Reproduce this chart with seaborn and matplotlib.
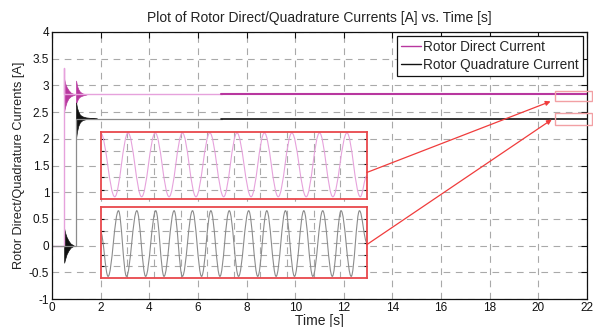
import numpy as np
import pandas as pd
import matplotlib
matplotlib.use("Agg")
import matplotlib.pyplot as plt
from matplotlib.patches import Rectangle, PathPatch
from matplotlib.path import Path
import seaborn as sns

# ---- data ----
# thin start-up traces (time [s], current [A])
direct_t = [0.0, 0.5, 0.5, 0.5, 7.0]
direct_i = [0.0, 0.0, 3.33, 2.83, 2.83]
quad_t = [0.0, 1.0, 1.0, 7.0]
quad_i = [0.0, 0.0, 2.38, 2.38]

# steady state (noisy) part
steady_t = [6.95, 22.0]
steady_direct = [2.83, 2.83]
steady_quad = [2.38, 2.38]

# transient bursts: envelope (time, upper, lower)
burst_d1_t = [0.50, 0.54, 0.60, 0.68, 0.78, 0.95]
burst_d1_hi = [3.12, 3.04, 2.97, 2.91, 2.86, 2.83]
burst_d1_lo = [2.52, 2.60, 2.69, 2.76, 2.80, 2.83]
burst_d2_t = [0.99, 1.03, 1.08, 1.15, 1.25, 1.42]
burst_d2_hi = [3.09, 2.99, 2.93, 2.88, 2.85, 2.83]
burst_d2_lo = [2.66, 2.71, 2.76, 2.79, 2.81, 2.83]
burst_q1_t = [0.50, 0.54, 0.60, 0.68, 0.76, 0.90]
burst_q1_hi = [0.32, 0.24, 0.16, 0.09, 0.04, 0.0]
burst_q1_lo = [-0.32, -0.25, -0.16, -0.09, -0.04, 0.0]
burst_q2_t = [0.99, 1.03, 1.08, 1.15, 1.25, 1.40, 1.60, 1.85]
burst_q2_hi = [2.68, 2.58, 2.51, 2.45, 2.42, 2.40, 2.39, 2.38]
burst_q2_lo = [2.02, 2.14, 2.24, 2.31, 2.35, 2.37, 2.38, 2.38]

# zoomed ripple, extrema positions (fraction of window) and levels
zoom_d_x = [0.0, 0.053, 0.103, 0.154, 0.205, 0.257, 0.307, 0.358, 0.41, 0.462,
            0.512, 0.565, 0.615, 0.667, 0.718, 0.772, 0.822, 0.872, 0.925, 0.975, 1.0]
zoom_d_y = [0.97, -0.93, 0.97, -0.93, 0.97, -0.93, 0.97, -0.93, 0.97, -0.93,
            0.97, -0.93, 0.97, -0.93, 0.97, -0.93, 0.97, -0.93, 0.97, -0.93, -0.3]
zoom_q_x = [0.0, 0.028, 0.067, 0.097, 0.136, 0.169, 0.207, 0.238, 0.276, 0.307,
            0.345, 0.379, 0.414, 0.448, 0.483, 0.518, 0.556, 0.590, 0.624, 0.659,
            0.694, 0.728, 0.763, 0.797, 0.834, 0.870, 0.903, 0.941, 0.972, 1.0]
zoom_q_y = [0.3, -0.95, 0.9, -0.95, 0.9, -0.95, 0.9, -0.95, 0.9, -0.95,
            0.9, -0.95, 0.9, -0.95, 0.9, -0.95, 0.9, -0.95, 0.9, -0.95,
            0.9, -0.95, 0.9, -0.95, 0.9, -0.95, 0.9, -0.95, 0.9, 0.0]

xticks = [0, 2, 4, 6, 8, 10, 12, 14, 16, 18, 20, 22]
yticks = [-1, -0.5, 0, 0.5, 1, 1.5, 2, 2.5, 3, 3.5, 4]
ytick_labels = ["-1", "-0.5", "0", "0.5", "1", "1.5", "2", "2.5", "3", "3.5", "4"]

# ---- style ----
sns.set_style("white")
plt.rcParams["font.family"] = ["Liberation Sans", "DejaVu Sans"]

MAG = "#b8379f"
MAG_LIGHT = "#e6a2dc"
GRAY = "#8c8c8c"
RED = "#e8484c"
GRID = dict(color="#a9a9a9", linestyle=(0, (6, 5)), linewidth=0.8)

fig = plt.figure(figsize=(5.93, 3.27), dpi=100)
ax = fig.add_axes([52 / 593, 1 - 299 / 327, 535 / 593, 267 / 327])

# thin traces
sns.lineplot(x=direct_t, y=direct_i, sort=False, estimator=None,
             color=MAG_LIGHT, lw=1.0, ax=ax)
sns.lineplot(x=quad_t, y=quad_i, sort=False, estimator=None,
             color=GRAY, lw=0.9, ax=ax)

# bursts
ax.fill_between(burst_d1_t, burst_d1_lo, burst_d1_hi, color=MAG, lw=0.5)
ax.fill_between(burst_d2_t, burst_d2_lo, burst_d2_hi, color=MAG, lw=0.5)
ax.fill_between(burst_q1_t, burst_q1_lo, burst_q1_hi, color="#111111", lw=0.5)
ax.fill_between(burst_q2_t, burst_q2_lo, burst_q2_hi, color="#111111", lw=0.5)

# steady state
sns.lineplot(x=steady_t, y=steady_direct, color=MAG, lw=1.5, ax=ax,
             label="Rotor Direct Current")
sns.lineplot(x=steady_t, y=steady_quad, color="#111111", lw=1.2, ax=ax,
             label="Rotor Quadrature Current")

ax.set_xlim(0, 22)
ax.set_ylim(-1, 4)
ax.set_xticks(xticks)
ax.set_xticklabels([str(v) for v in xticks])
ax.set_yticks(yticks)
ax.set_yticklabels(ytick_labels)
ax.grid(True, **GRID)
ax.set_axisbelow(True)
ax.tick_params(direction="in", top=True, right=True, length=4, width=0.8,
               labelsize=8.5, pad=2, colors="#111111")
for s in ax.spines.values():
    s.set_color("#111111")
    s.set_linewidth(0.9)

ax.set_title("Plot of Rotor Direct/Quadrature Currents [A] vs. Time [s]",
             fontsize=10, pad=7, color="#222222")
ax.set_xlabel("Time [s]", fontsize=10, labelpad=0, color="#222222")
ax.set_ylabel("Rotor Direct/Quadrature Currents [A]", fontsize=9.2,
              labelpad=3, color="#222222")

leg = ax.legend(loc="upper right", fontsize=9.8, frameon=True, fancybox=False,
                framealpha=1, edgecolor="#111111", handlelength=1.5,
                handletextpad=0.15, borderpad=0.3, labelspacing=0.28,
                borderaxespad=0.3)
leg.get_frame().set_linewidth(0.9)
for h in leg.get_lines():
    h.set_linewidth(1.0)

# zoom windows on the steady state
ax.add_patch(Rectangle((20.68, 2.71), 1.52, 0.18, fill=False, ec="#f2a0a4",
                       lw=1.0, clip_on=False, zorder=5))
ax.add_patch(Rectangle((20.68, 2.26), 1.52, 0.23, fill=False, ec="#f2a0a4",
                       lw=1.0, clip_on=False, zorder=5))


def ripple_path(xs, ys):
    # smooth curve through the extrema (flat tangents at each extremum)
    verts = [(xs[0], ys[0])]
    codes = [Path.MOVETO]
    for x0, y0, x1, y1 in zip(xs[:-1], ys[:-1], xs[1:], ys[1:]):
        dx = x1 - x0
        verts += [(x0 + 0.364 * dx, y0), (x1 - 0.364 * dx, y1), (x1, y1)]
        codes += [Path.CURVE4] * 3
    return Path(verts, codes)


def ripple_inset(bounds, xs, ys, color, yt):
    ins = ax.inset_axes(bounds, transform=ax.transData, zorder=4)
    ins.add_patch(PathPatch(ripple_path(xs, ys), fill=False, ec=color, lw=0.8))
    ins.set_xlim(0, 1)
    ins.set_ylim(-1, 1)
    ins.set_xticks([0.1, 0.2, 0.3, 0.4, 0.5, 0.6, 0.7, 0.8, 0.9])
    ins.set_yticks(yt)
    ins.set_xticklabels([])
    ins.set_yticklabels([])
    ins.grid(True, **GRID)
    ins.set_axisbelow(True)
    ins.tick_params(direction="in", left=True, right=True, bottom=False,
                    length=2.5, width=0.8, colors="#111111")
    for s in ins.spines.values():
        s.set_color(RED)
        s.set_linewidth(1.3)
    return ins


ripple_inset([2.0, 0.87, 10.95, 1.26], zoom_d_x, zoom_d_y, MAG_LIGHT,
             [-0.72, -0.34, 0.04, 0.42, 0.8])
ripple_inset([2.0, -0.61, 10.95, 1.33], zoom_q_x, zoom_q_y, GRAY,
             [-0.67, -0.34, 0.0, 0.33, 0.67])

arrow = dict(arrowstyle="-|>", color="#f03c3c", lw=0.9, mutation_scale=7,
             shrinkA=0, shrinkB=0)
ax.annotate("", xy=(20.5, 2.70), xytext=(12.95, 1.37), arrowprops=arrow,
            zorder=6)
ax.annotate("", xy=(20.55, 2.36), xytext=(12.95, 0.02), arrowprops=arrow,
            zorder=6)

fig.savefig("out.png", dpi=100, facecolor="white")
